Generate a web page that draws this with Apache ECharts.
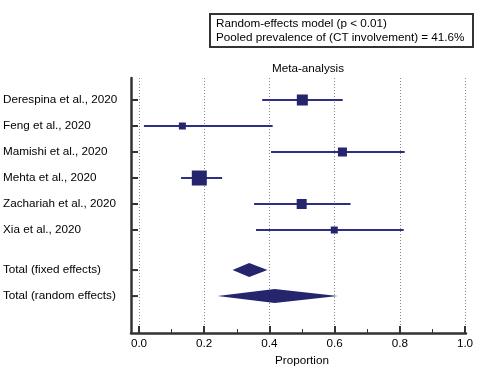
<!DOCTYPE html>
<html>
<head>
<meta charset="utf-8">
<script src="https://cdn.jsdelivr.net/npm/echarts@6/dist/echarts.min.js"></script>
<style>
html,body{margin:0;padding:0;background:#fff;}
#chart{width:482px;height:370px;}
</style>
</head>
<body>
<div id="chart"></div>
<script>
// ---- data ----
const studies = ['Derespina et al., 2020', 'Feng et al., 2020', 'Mamishi et al., 2020', 'Mehta et al., 2020', 'Zachariah et al., 2020', 'Xia et al., 2020'];
const estimates = [0.501, 0.133, 0.624, 0.185, 0.499, 0.599];
const lowerCI = [0.378, 0.015, 0.405, 0.129, 0.353, 0.359];
const upperCI = [0.625, 0.410, 0.815, 0.255, 0.649, 0.812];
const weights = [19.4, 7.8, 13.0, 36.0, 16.0, 7.8];
const pooledLabels = ['Total (fixed effects)', 'Total (random effects)'];
const pooledEst = [0.338, 0.416];
const pooledLower = [0.287, 0.241];
const pooledUpper = [0.394, 0.610];
const rowPos = [1, 2, 3, 4, 5, 6, 7.54, 8.54];
const xTicks = [0, 0.2, 0.4, 0.6, 0.8, 1.0];
const boxLines = ['Random-effects model (p < 0.01)', 'Pooled prevalence of (CT involvement) = 41.6%'];

const font = 'Liberation Sans, Arial, sans-serif';
const fs = 11.7;
const txt = '#000';

const studyData = studies.map((s, i) => [rowPos[i], estimates[i], lowerCI[i], upperCI[i], weights[i]]);
const pooledData = pooledLabels.map((s, i) => [rowPos[6 + i], pooledEst[i], pooledLower[i], pooledUpper[i]]);
const allLabels = studies.concat(pooledLabels);
const labelData = allLabels.map((s, i) => [rowPos[i], i]);

const yMin = 0.154, yMax = 9.96;

const chart = echarts.init(document.getElementById('chart'), null, {renderer: 'canvas'});
const option = {
  animation: false,
  backgroundColor: '#fff',
  title: {
    text: 'Meta-analysis', left: 303, textAlign: 'center', top: 58,
    textStyle: {fontFamily: font, fontSize: fs, fontWeight: 'normal', color: txt}
  },
  graphic: [{
    type: 'rect', shape: {x: 210, y: 14, width: 263, height: 33},
    style: {fill: '#fff', stroke: '#333', lineWidth: 2}
  }, {
    type: 'text', left: 216, top: 17,
    style: {text: boxLines.join('\n'), fontFamily: font, fontSize: fs, fill: txt, lineHeight: 14}
  }],
  grid: [
    {left: 131, right: 16, top: 78, bottom: 37, outerBoundsMode: 'none', containLabel: false},
    {left: 139, right: 17, top: 78, bottom: 37, outerBoundsMode: 'none', containLabel: false}
  ],
  xAxis: [{
    gridIndex: 0, type: 'value', min: -0.0245, max: 1.0,
    axisLine: {show: true, onZero: false, lineStyle: {color: '#333', width: 2.5}},
    axisTick: {show: false}, axisLabel: {show: false}, splitLine: {show: false}
  }, {
    gridIndex: 1, type: 'value', min: 0, max: 1, interval: 0.2,
    axisLine: {show: false, onZero: false},
    axisTick: {show: true, inside: true, length: 7, lineStyle: {color: '#333', width: 2}},
    minorTick: {show: true, splitNumber: 2, length: 4, lineStyle: {color: '#333', width: 1}},
    axisLabel: {
      show: true, margin: 5, fontFamily: font, fontSize: fs, color: txt,
      formatter: v => v.toFixed(1)
    },
    splitLine: {show: true, lineStyle: {color: '#888', type: [1, 2], width: 1}},
    name: 'Proportion', nameLocation: 'middle', nameGap: 21,
    nameTextStyle: {fontFamily: font, fontSize: fs, color: txt}
  }],
  yAxis: [{
    gridIndex: 0, type: 'value', min: yMin, max: yMax, inverse: true,
    axisLine: {show: true, onZero: false, lineStyle: {color: '#333', width: 2.5}},
    axisTick: {show: false}, axisLabel: {show: false}, splitLine: {show: false}
  }, {
    gridIndex: 1, type: 'value', min: yMin, max: yMax, inverse: true, show: false
  }],
  series: [{
    // row labels + y ticks
    type: 'custom', xAxisIndex: 1, yAxisIndex: 1, data: labelData, silent: true,
    renderItem: (params, api) => {
      const p = api.coord([0, api.value(0)]);
      const name = allLabels[api.value(1)];
      return {
        type: 'group', children: [{
          type: 'line', shape: {x1: p[0] - 8, y1: p[1], x2: p[0] - 1, y2: p[1]},
          style: {stroke: '#333', lineWidth: 2}
        }, {
          type: 'text', x: 3, y: p[1],
          style: {text: name, fontFamily: font, fontSize: fs, fill: txt, verticalAlign: 'middle', align: 'left'}
        }]
      };
    }
  }, {
    // study CI lines and boxes
    type: 'custom', xAxisIndex: 1, yAxisIndex: 1, data: studyData, silent: true, z: 5,
    renderItem: (params, api) => {
      const y = api.value(0);
      const c = api.coord([api.value(1), y]);
      const lo = api.coord([api.value(2), y]);
      const hi = api.coord([api.value(3), y]);
      const s = Math.sqrt(api.value(4)) * 2.5;
      return {
        type: 'group', children: [{
          type: 'line', shape: {x1: lo[0], y1: lo[1], x2: hi[0], y2: hi[1]},
          style: {stroke: '#2e2e82', lineWidth: 2}
        }, {
          type: 'rect', shape: {x: c[0] - s / 2, y: c[1] - s / 2, width: s, height: s},
          style: {fill: '#25256e'}
        }]
      };
    }
  }, {
    // pooled diamonds
    type: 'custom', xAxisIndex: 1, yAxisIndex: 1, data: pooledData, silent: true, z: 5,
    renderItem: (params, api) => {
      const y = api.value(0);
      const c = api.coord([api.value(1), y]);
      const lo = api.coord([api.value(2), y]);
      const hi = api.coord([api.value(3), y]);
      const h = 7;
      return {
        type: 'polygon',
        shape: {points: [[lo[0], c[1]], [c[0], c[1] - h], [hi[0], c[1]], [c[0], c[1] + h]]},
        style: {fill: '#25256e'}
      };
    }
  }]
};
chart.setOption(option);
</script>
</body>
</html>
